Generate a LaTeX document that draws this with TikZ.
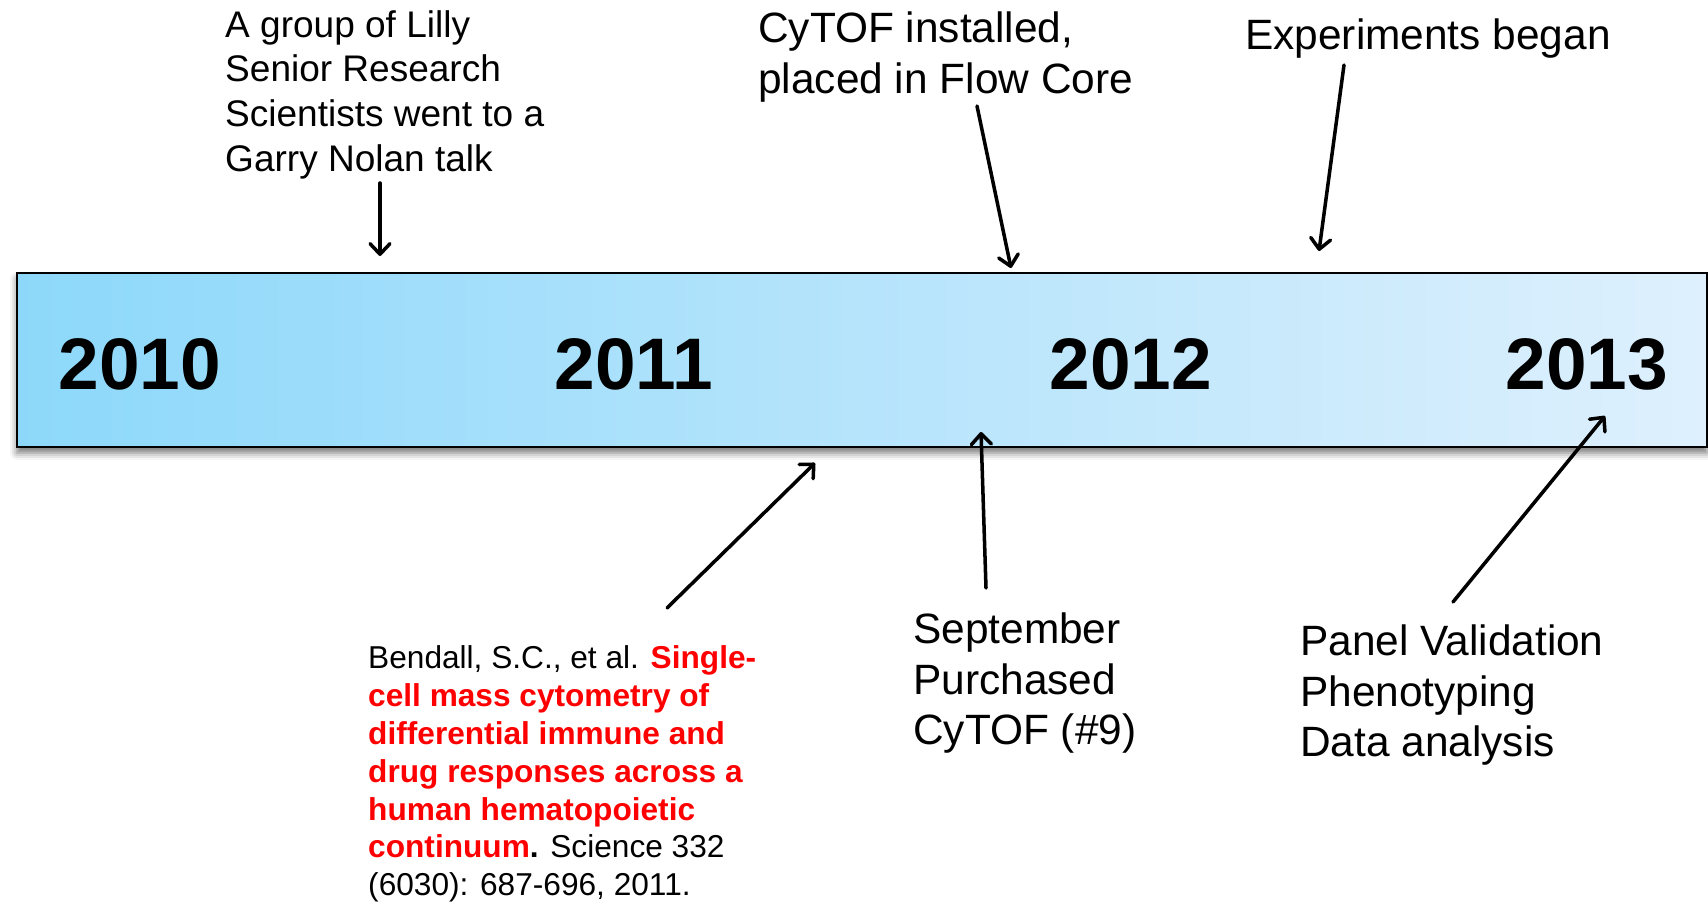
\documentclass[tikz,border=0pt]{standalone}
\usepackage{fontspec}
\setmainfont{Liberation Sans}
\usetikzlibrary{positioning, arrows.meta, shadows.blur}
\definecolor{barleft}{RGB}{141,216,250}
\definecolor{barright}{RGB}{222,240,253}
\tikzset{
timebar/.style={draw=black, line width=1.6pt, left color=barleft, right color=barright,
  blur shadow={shadow xshift=0pt, shadow yshift=-5pt, shadow blur radius=6pt, shadow opacity=55}},
year/.style={inner sep=0pt, anchor=base, font=\fontsize{62.3}{75}\selectfont\bfseries},
event/.style={inner sep=0pt, anchor=north west, align=left, font=\fontsize{36.2}{43.1}\selectfont},
smallevent/.style={inner sep=0pt, anchor=north west, align=left, font=\fontsize{31.6}{38.2}\selectfont},
cite/.style={inner sep=0pt, anchor=north west, align=left, font=\fontsize{27}{32.4}\selectfont},
pointer/.style={line width=3pt, line cap=round, -{Straight Barb[length=9pt, width=17pt, line cap=round, line join=round]}},
}

\begin{document}
\begin{tikzpicture}[x=0.03cm, y=-0.03cm]
            \useasboundingbox (0,0) rectangle (1708,902);
            % the time line
            \draw[timebar] (17,273) rectangle (1707,447);
            \node[year] (y2010) at (140,389) {2010};
            \node[year] (y2011) at (634,389) {2011};
            \node[year] (y2012) at (1131,389) {2012};
            \node[year] (y2013) at (1587,389) {2013};
            % events above
            \node[smallevent] (talk) at (225,10) {A group of Lilly\\Senior Research\\Scientists went to a\\Garry Nolan talk};
            \node[event] (installed) at (758,12) {CyTOF installed,\\placed in Flow Core};
            \node[event] (began) at (1245,19) {Experiments began};
            % events below
            \node[cite] (paper) at (368,645) {Bendall, S.C., et al. {\color{red}\bfseries Single-}\\
                {\color{red}\bfseries cell mass cytometry of}\\
                {\color{red}\bfseries differential immune and}\\
                {\color{red}\bfseries drug responses across a}\\
                {\color{red}\bfseries human hematopoietic}\\
                {\color{red}\bfseries continuum}\textbf{.} Science 332\\
                (6030): 687-696, 2011.};
            \node[event] (purchased) at (913,613) {September\\Purchased\\CyTOF (\#9)};
            \node[event] (panel) at (1300,625) {Panel Validation\\Phenotyping\\Data analysis};
            % arrow ends
            \coordinate (talk-s) at (380,183);
            \coordinate (talk-t) at (380,256);
            \coordinate (installed-s) at (977,106);
            \coordinate (installed-t) at (1011,268);
            \coordinate (began-s) at (1344,65);
            \coordinate (began-t) at (1319,251);
            \coordinate (paper-s) at (667,608);
            \coordinate (paper-t) at (815,463);
            \coordinate (purchased-s) at (986,588);
            \coordinate (purchased-t) at (981,432);
            \coordinate (panel-s) at (1453,602);
            \coordinate (panel-t) at (1605,416);
            \foreach \e in {talk, installed, began, paper, purchased, panel}
                \draw[pointer] (\e-s)--(\e-t);
        \end{tikzpicture}
\end{document}
